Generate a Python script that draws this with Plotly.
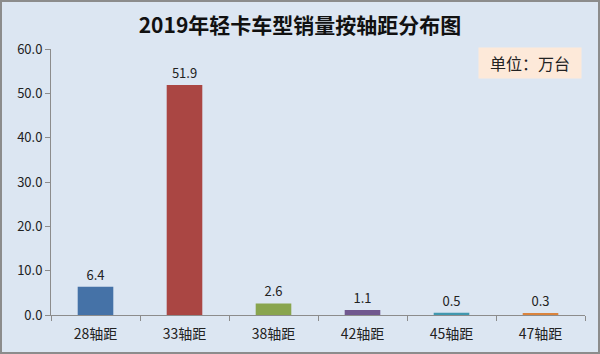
import plotly.graph_objects as go

categories = ["28轴距", "33轴距", "38轴距", "42轴距", "45轴距", "47轴距"]
values = [6.4, 51.9, 2.6, 1.1, 0.5, 0.3]
colors = ["#4572A7", "#AA4643", "#89A54E", "#71588F", "#4198AF", "#DB843D"]
y_ticks = [0, 10, 20, 30, 40, 50, 60]

W, H = 600, 354
ml, mr, mt, mb = 51, 15, 49, 39
pw, ph = W - ml - mr, H - mt - mb

font = "Noto Sans CJK SC, Noto Sans, sans-serif"

fig = go.Figure(go.Bar(
    x=categories, y=values,
    marker=dict(color=colors, line=dict(width=0)),
    text=[f"{v:.1f}" for v in values], textposition="outside",
    textfont=dict(size=13, color="#222222", family=font),
    cliponaxis=False,
))

fig.update_layout(
    width=W, height=H,
    margin=dict(l=ml, r=mr, t=mt, b=mb, autoexpand=False),
    paper_bgcolor="#DCE6F2", plot_bgcolor="#DCE6F2",
    bargap=0.6,
    showlegend=False,
    title=dict(text="<b>2019年轻卡车型销量按轴距分布图</b>", x=0.5, xanchor="center",
               y=1 - 26 / H, yanchor="middle",
               font=dict(size=21, color="#111111", family=font)),
    xaxis=dict(showline=True, linecolor="#8C8C8C", linewidth=1, ticks="outside",
               tickson="boundaries", ticklen=5, tickcolor="#8C8C8C",
               ticklabelstandoff=6, automargin=False,
               tickfont=dict(size=14, color="#222222", family=font), showgrid=False),
    yaxis=dict(range=[0, 60], tickvals=y_ticks, tickformat=".1f", showline=True,
               linecolor="#8C8C8C", linewidth=1, ticks="outside", ticklen=5,
               tickcolor="#8C8C8C", showgrid=False, zeroline=False, automargin=False,
               tickfont=dict(size=13, color="#222222", family=font)),
    shapes=[dict(type="rect", xref="paper", yref="paper",
                 x0=-ml / pw + 1 / pw, x1=1 + mr / pw - 1 / pw,
                 y0=-mb / ph + 1 / ph, y1=1 + mt / ph - 1 / ph,
                 line=dict(color="#8C8C8C", width=2), fillcolor="rgba(0,0,0,0)")],
    annotations=[dict(text="单位：万台", xref="paper", yref="paper",
                      x=(582 - ml) / pw, y=1 - (47 - mt) / ph, xanchor="right", yanchor="top",
                      width=102, height=30, align="center", valign="middle",
                      showarrow=False, bgcolor="#FDE9D9", borderpad=0,
                      font=dict(size=16, color="#222222", family=font))],
)

fig.write_html("out.html")
